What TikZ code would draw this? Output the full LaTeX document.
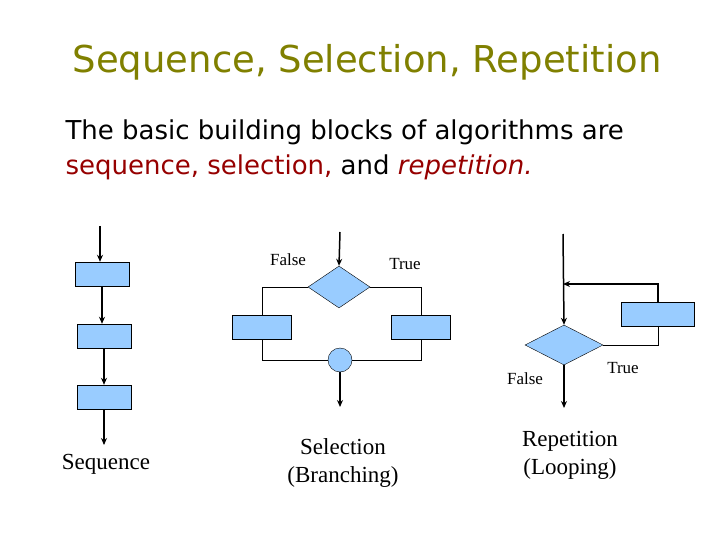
\documentclass[tikz,border=0pt]{standalone}
\usepackage{fontspec}
\setmainfont{Liberation Serif}
\newfontfamily\sansf{DejaVu Sans}
\usetikzlibrary{shapes.geometric,arrows.meta}
\definecolor{olive}{RGB}{128,128,0}
\definecolor{dred}{RGB}{150,0,0}
\definecolor{boxblue}{RGB}{153,204,255}
\tikzset{
  box/.style={draw,fill=boxblue,minimum width=54pt,minimum height=24pt,inner sep=0pt},
  dia/.style={draw,fill=boxblue,diamond,inner sep=0pt},
  arr/.style={line width=1.5pt,-{Stealth[length=7pt,width=6pt]}},
  ln/.style={line width=0.8pt},
  lab/.style={font=\fontsize{17}{19}\selectfont},
  captext/.style={font=\fontsize{23}{28}\selectfont,align=center}
}
\begin{document}
\begin{tikzpicture}[x=1pt,y=-1pt]
\useasboundingbox (0,0) rectangle (720,540);
\node[font=\sansf\fontsize{37}{40}\selectfont,text=olive] (title) at (367,62) {Sequence, Selection, Repetition};
\node[font=\sansf\fontsize{26}{35}\selectfont,anchor=west,align=left] (intro) at (62,150) {The basic building blocks of algorithms are\\\textcolor{dred}{sequence, selection,} and \textcolor{dred}{\itshape repetition.}};
% sequence
\coordinate (s0) at (100,226);
\node[box] (s1) at (102,274) {};
\node[box] (s2) at (104,336) {};
\node[box] (s3) at (104,397) {};
\coordinate (s4) at (104,445);
\draw[arr] (s0) -- (s1.north-|s0);
\draw[arr] (s1.south) -- (s2.north-|s1);
\draw[arr] (s2.south) -- (s3.north);
\draw[arr] (s3.south) -- (s4);
\node[captext] (seq) at (106,464) {Sequence};
% selection
\coordinate (b0) at (340,232);
\node[dia,minimum width=62pt,minimum height=42pt] (bd) at (339,287) {};
\node[box,minimum width=59pt] (bl) at (262,327) {};
\node[box,minimum width=59pt] (br) at (421,327) {};
\node[draw,fill=boxblue,circle,minimum size=24pt,inner sep=0pt] (bc) at (340,360) {};
\coordinate (b5) at (340,407);
\draw[arr] (b0) -- (bd.north);
\draw[ln] (bd.west) -| (bl.north);
\draw[ln] (bd.east) -| (br.north);
\draw[ln] (bl.south) |- (bc.west);
\draw[ln] (br.south) |- (bc.east);
\draw[arr] (bc.south) -- (b5);
\node[lab] (fl1) at (288,260) {False};
\node[lab] (tr1) at (405,264) {True};
\node[captext] (selc) at (343,463) {Selection\\(Branching)};
% repetition
\coordinate (r0) at (563,234);
\node[dia,minimum width=78pt,minimum height=40pt] (rd) at (564,345) {};
\node[box,minimum width=73pt] (rb) at (658,314) {};
\coordinate (rj) at (563,284);
\coordinate (r5) at (564,408);
\draw[arr] (r0) -- (rd.north);
\draw[ln] (rd.east) -| (rb.south);
\draw[arr] (rb.north) |- (rj);
\draw[arr] (rd.south) -- (r5);
\node[lab] (fl2) at (525,379) {False};
\node[lab] (tr2) at (623,368) {True};
\node[captext] (repc) at (570,455) {Repetition\\(Looping)};
\end{tikzpicture}
\end{document}
